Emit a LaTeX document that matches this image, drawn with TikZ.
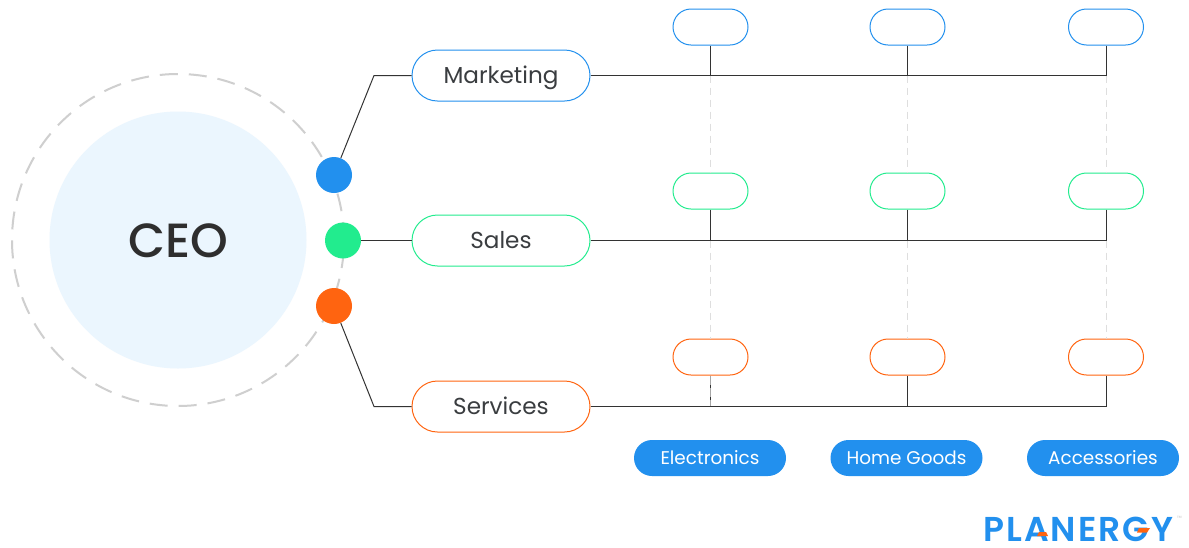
\documentclass[tikz,border=0pt]{standalone}
\usepackage{fontspec}
\setmainfont{Poppins}
\newfontfamily\logofont[LetterSpace=6]{Poppins SemiBold}
\newfontfamily\ceofont{Poppins Medium}
\definecolor{cblue}{HTML}{2290EE}
\definecolor{cgreen}{HTML}{22EC8E}
\definecolor{corange}{HTML}{FF6410}
\definecolor{cpale}{HTML}{EBF6FE}
\definecolor{ctext}{HTML}{3A3D40}
\definecolor{cline}{HTML}{333333}
\definecolor{cdash}{HTML}{CFCFCF}
\definecolor{cguide}{HTML}{DEDEDE}
\usetikzlibrary{shapes.misc}
\tikzset{
  x=1pt,y=-1pt,
  pill/.style={rounded rectangle,draw=#1,fill=white,line width=1pt,minimum width=178pt,minimum height=51pt,inner sep=0pt,text=ctext,text height=16.6pt,text depth=0pt,font=\fontsize{23.1}{28}\selectfont},
  small/.style={rounded rectangle,draw=#1,fill=white,line width=1pt,minimum width=75pt,minimum height=36pt,inner sep=0pt},
  tag/.style={rounded rectangle,fill=cblue,minimum width=152pt,minimum height=36pt,inner sep=0pt,text=white,text height=12.6pt,text depth=0pt,font=\fontsize{18.4}{22}\selectfont},
  dot/.style={circle,fill=#1,minimum size=36pt,inner sep=0pt},
  conn/.style={draw=cline,line width=1pt},
  guide/.style={draw=cguide,line width=0.8pt,dash pattern=on 7pt off 5pt},
  overlay guide/.style={draw=cdash!80!black,line width=1.5pt,dash pattern=on 9pt off 3pt},
}
\begin{document}
\begin{tikzpicture}
\useasboundingbox (0,0) rectangle (1189,547);
\fill[white] (0,0) rectangle (1189,547);
% CEO
\node[circle,fill=cpale,minimum size=257pt,inner sep=0pt,text=black!82,text height=34pt,text depth=0pt,font=\fontsize{48}{56}\ceofont] (ceo) at (178,240) {CEO};
\node[circle,draw=cdash,line width=2pt,dash pattern=on 18pt off 11pt,minimum size=332pt,inner sep=0pt] (ring) at (178,240) {};
% departments
\coordinate (bendm) at (374,75.5);
\coordinate (bends) at (374,406.5);
\node[pill=cblue] (mk) at (501,75.5) {Marketing};
\node[pill=cgreen] (sa) at (501,240.5) {Sales};
\node[pill=corange] (se) at (501,406.5) {Services};
% small pills
\foreach \n/\x in {1/710.5,2/907.5,3/1106}{
  \node[small=cblue] (m\n) at (\x,27) {};
  \node[small=cgreen] (s\n) at (\x,191) {};
  \node[small=corange] (o\n) at (\x,357) {};
  \coordinate (mj\n) at (\x,75.5);
  \coordinate (sj\n) at (\x,240.5);
  \coordinate (oj\n) at (\x,406.5);
  \path[guide] (mj\n) -- (s\n.north);
  \path[guide] (sj\n) -- (o\n.north);
  \path[conn] (m\n.south) -- (mj\n);
  \path[conn] (s\n.south) -- (sj\n);
  \path[conn] (o\n.south) -- (oj\n);
}
\path[overlay guide] (o1.south) -- (oj1);
\path[conn] (mk.east) -- (mj3);
\path[conn] (sa.east) -- (sj3);
\path[conn] (se.east) -- (oj3);
% dots
\node[dot=cblue] (db) at (334,175) {};
\node[dot=cgreen] (dg) at (343,240.5) {};
\node[dot=corange] (do) at (334,306) {};
\path[conn] (db) -- (bendm) -- (mk.west);
\path[conn] (dg) -- (sa.west);
\path[conn] (do) -- (bends) -- (se.west);
% tags
\node[tag] (t1) at (710,458) {Electronics};
\node[tag] (t2) at (906.5,458) {Home Goods};
\node[tag] (t3) at (1103,458) {Accessories};
% logo
\node[anchor=base west,inner sep=0pt,text=cblue,font=\fontsize{34.5}{40}\logofont] (logo) at (983,541) {PLANERGY};
\node[anchor=west,inner sep=0pt,text=cdash,font=\fontsize{6}{7}\selectfont] (tm) at (1177,518.5) {™};
\fill[corange] (1039,532) -- (1046,532) -- (1048,536) -- (1037,536) -- cycle;
\fill[corange] (1139,528) -- (1150,528) -- (1147,532.5) -- (1137,532.5) -- cycle;
\end{tikzpicture}
\end{document}
